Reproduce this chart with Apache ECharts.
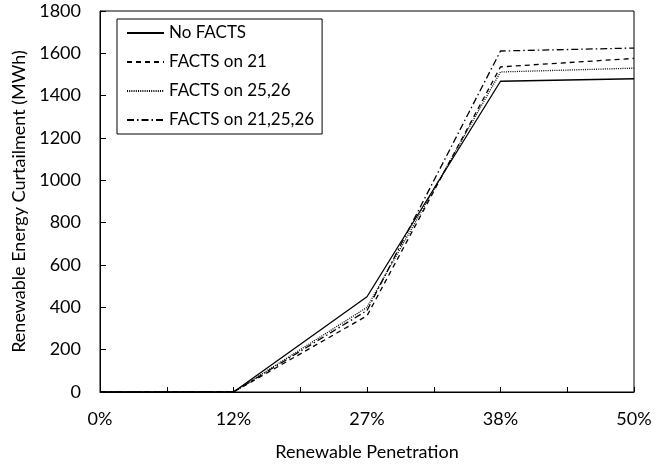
<!DOCTYPE html>
<html><head><meta charset="utf-8">
<script src="https://cdn.jsdelivr.net/npm/echarts@6/dist/echarts.min.js"></script>
<style>html,body{margin:0;padding:0;background:#fff}#c{width:672px;height:466px}</style>
</head><body><div id="c"></div>
<script>
const categories = ['0%', '12%', '27%', '38%', '50%'];
const noFacts = [0, 0, 450, 1468, 1480];
const facts21 = [0, 0, 360, 1536, 1576];
const facts2526 = [0, 0, 400, 1512, 1530];
const facts212526 = [0, 0, 385, 1611, 1625];
const yTicks = { min: 0, max: 1800, interval: 200 };

const FONT = 'Lato';
const chart = echarts.init(document.getElementById('c'));
function mk(name, vals, type) {
  return {
    name: name, type: 'line', symbol: 'none', smooth: false,
    data: categories.map((c, i) => [i, vals[i]]),
    lineStyle: { color: '#000', width: 1.3, type: type },
    itemStyle: { color: '#000' },
    emphasis: { disabled: true }
  };
}
chart.setOption({
  animation: false,
  textStyle: { fontFamily: FONT },
  grid: { left: 100, right: 38, top: 11, bottom: 70, show: true, borderColor: '#000', borderWidth: 1 },
  legend: {
    orient: 'vertical', left: 117, top: 19,
    padding: [5, 8, 5, 9], itemGap: 11,
    itemWidth: 37, itemHeight: 18,
    borderColor: '#000', borderWidth: 1, backgroundColor: '#fff',
    itemStyle: { opacity: 0 },
    textStyle: { fontFamily: FONT, fontSize: 17, color: '#000', lineHeight: 18 },
    data: ['No FACTS', 'FACTS on 21', 'FACTS on 25,26', 'FACTS on 21,25,26']
  },
  xAxis: {
    type: 'value', min: 0, max: categories.length - 1, interval: 0.5,
    name: 'Renewable Penetration', nameLocation: 'middle', nameGap: 51,
    nameTextStyle: { fontFamily: FONT, fontSize: 18, color: '#000' },
    axisLine: { lineStyle: { color: '#000', width: 1 } },
    axisTick: { inside: true, length: 5, lineStyle: { color: '#000' } },
    axisLabel: { margin: 18, fontFamily: FONT, fontSize: 18, color: '#000',
      formatter: v => Number.isInteger(v) ? categories[v] : '' },
    splitLine: { show: false }
  },
  yAxis: {
    type: 'value', min: yTicks.min, max: yTicks.max, interval: yTicks.interval,
    name: 'Renewable Energy Curtailment (MWh)', nameLocation: 'middle', nameGap: 52,
    nameTextStyle: { fontFamily: FONT, fontSize: 18, color: '#000' },
    axisLine: { show: true, lineStyle: { color: '#000', width: 1 } },
    axisTick: { show: true, inside: true, length: 6, lineStyle: { color: '#000' } },
    axisLabel: { margin: 19, fontFamily: FONT, fontSize: 18, color: '#000',
      formatter: v => String(v) },
    splitLine: { show: false }
  },
  series: [
    mk('No FACTS', noFacts, 'solid'),
    mk('FACTS on 21', facts21, [5, 4]),
    mk('FACTS on 25,26', facts2526, [1, 1.2]),
    mk('FACTS on 21,25,26', facts212526, [7, 3, 1.5, 3])
  ]
});
</script></body></html>
